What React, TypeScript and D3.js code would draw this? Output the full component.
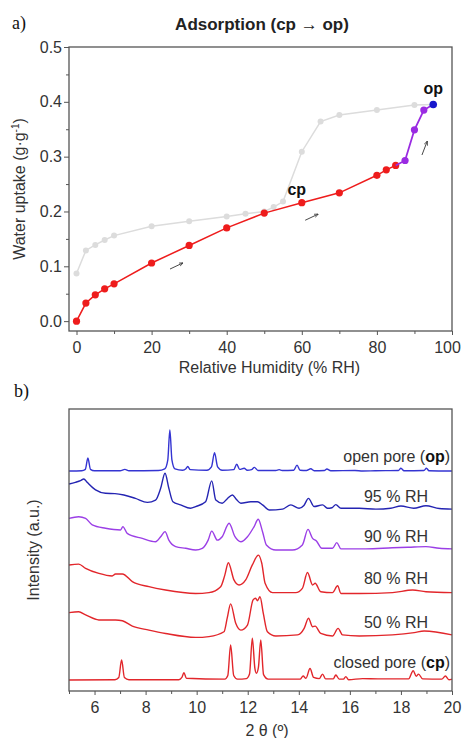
import React, { useEffect, useRef } from 'react';
import * as d3 from 'd3';

type Pt = [number, number];

// a) water adsorption isotherm, x = % RH, y = g/g
const adsRed: Pt[] = [
  [0, 0.0], [2.5, 0.033], [5, 0.048], [7.5, 0.059], [10, 0.068], [20, 0.106],
  [30, 0.138], [40, 0.170], [50, 0.197], [60, 0.216], [70, 0.234], [80, 0.266],
  [82.5, 0.276], [85, 0.284],
];
const adsPurple: Pt[] = [[87.5, 0.293], [90, 0.349], [92.5, 0.385]];
const adsBlue: Pt[] = [[95, 0.395]];
const desGray: Pt[] = [
  [0, 0.087], [2.5, 0.129], [5, 0.139], [7.5, 0.148], [10, 0.156], [20, 0.173],
  [30, 0.182], [40, 0.191], [45, 0.196], [50, 0.200], [52.5, 0.208], [55, 0.218],
  [60, 0.309], [65, 0.364], [70, 0.376], [80, 0.385], [90, 0.394], [95, 0.395],
];
const xTicksA = [0, 20, 40, 60, 80, 100];
const xMinorA = [10, 30, 50, 70, 90];
const yTicksA = [0, 0.1, 0.2, 0.3, 0.4, 0.5];
const yMinorA = [0.05, 0.15, 0.25, 0.35, 0.45];
// small direction arrows [x1, y1, x2, y2]
const arrowsA = [
  [24.9, 0.095, 28.3, 0.106],
  [60.9, 0.184, 64.3, 0.195],
  [92.0, 0.303, 93.4, 0.328],
];

// b) PXRD patterns, x = 2theta, y = stacked intensity (a.u.)
const xrdOp: Pt[] = [
  [5, 78], [5.5, 78.1], [5.64, 78.6], [5.74, 82.6], [5.84, 78.6], [6.0, 78.1], [7.0, 78.1],
  [7.19, 78.6], [7.35, 78.1], [8.5, 78.2], [8.75, 78.8], [8.87, 82], [8.95, 92.6], [9.03, 82],
  [9.15, 78.8], [9.45, 78.3], [9.58, 78.8], [9.65, 79.6], [9.75, 78.5], [10.4, 78.3],
  [10.58, 79.5], [10.7, 84.5], [10.82, 79.5], [11.0, 78.3], [11.45, 78.5], [11.57, 80.4],
  [11.68, 78.6], [11.86, 79.0], [11.98, 78.3], [12.15, 78.5], [12.26, 79.3], [12.4, 78.2],
  [13.1, 78.2], [13.23, 78.5], [13.35, 78.2], [13.8, 78.3], [13.93, 80.1], [14.05, 78.3],
  [14.3, 78.2], [14.47, 78.8], [14.6, 78.1], [15.0, 78.2], [15.1, 78.7], [15.25, 78.1],
  [16.2, 78.2], [16.5, 78.0], [17.0, 78.1], [17.9, 78.2], [18.0, 79.0], [18.12, 78.1],
  [18.9, 78.2], [19.0, 79.0], [19.1, 78.1], [20, 78.0],
];
const xrd95: Pt[] = [
  [5.0, 73.4], [5.25, 74.0], [5.45, 74.6], [5.58, 75.2], [5.71, 74.0], [6.04, 71.3], [6.43, 70.1],
  [6.8, 70.0], [7.15, 69.5], [7.6, 68.3], [8.07, 66.9], [8.39, 67.7], [8.59, 71.9], [8.76, 77.2],
  [8.91, 71.9], [9.07, 67.1], [9.37, 66.0], [9.76, 64.8], [9.96, 65.4], [10.35, 67.1],
  [10.59, 74.5], [10.75, 67.7], [11.0, 66.6], [11.2, 68.2], [11.4, 69.5], [11.55, 68.0],
  [11.73, 66.6], [12.12, 67.1], [12.38, 67.1], [12.58, 66.0], [12.84, 64.2], [13.36, 64.5],
  [13.69, 66.0], [14.01, 64.8], [14.2, 65.8], [14.38, 68.3], [14.6, 65.4], [14.93, 66.0],
  [15.12, 64.8], [15.3, 65.0], [15.45, 66.1], [15.65, 64.8], [16.37, 64.8], [17.02, 64.5],
  [17.6, 64.8], [18.0, 65.6], [18.5, 64.8], [18.98, 65.7], [19.5, 64.7], [20.0, 64.5],
];
const xrd90: Pt[] = [
  [5.0, 61.2], [5.38, 61.8], [5.65, 61.2], [5.91, 58.9], [6.43, 57.7], [7.02, 57.1], [7.11, 58.3],
  [7.28, 55.9], [7.87, 54.1], [8.39, 52.9], [8.59, 54.7], [8.76, 56.5], [8.91, 53.5], [9.18, 51.2],
  [9.57, 50.6], [9.96, 50.0], [10.22, 50.6], [10.45, 53.5], [10.59, 56.7], [10.81, 53.5],
  [11.0, 54.7], [11.27, 59.5], [11.5, 54.7], [11.73, 52.9], [11.99, 54.7], [12.25, 58.3],
  [12.41, 60.9], [12.58, 56.5], [12.73, 51.8], [13.1, 50.0], [13.75, 50.0], [14.14, 51.8],
  [14.36, 57.3], [14.54, 54.1], [14.69, 53.2], [14.9, 50.6], [15.32, 50.6], [15.49, 52.6],
  [15.65, 50.4], [16.63, 50.4], [17.67, 50.8], [18.3, 51.0], [18.98, 51.2], [19.5, 50.6],
  [20.0, 50.4],
];
const xrd80: Pt[] = [
  [5.0, 44.7], [5.38, 45.0], [5.65, 43.5], [6.17, 41.7], [6.69, 40.8], [6.82, 41.5], [7.09, 41.5],
  [7.48, 38.8], [8.13, 37.0], [8.78, 35.8], [9.96, 34.6], [10.48, 34.9], [10.94, 37.0],
  [11.1, 41.0], [11.24, 45.5], [11.46, 39.4], [11.66, 37.6], [11.92, 39.4], [12.18, 44.7],
  [12.42, 48.2], [12.55, 45.3], [12.68, 38.2], [12.97, 34.9], [13.88, 34.9], [14.14, 36.4],
  [14.34, 42.0], [14.54, 37.6], [14.64, 38.2], [14.86, 35.2], [15.32, 34.9], [15.52, 37.3],
  [15.65, 34.6], [16.37, 34.6], [17.67, 34.9], [18.46, 35.8], [18.98, 35.2], [20.0, 34.9],
];
const xrd50: Pt[] = [
  [5.0, 27.8], [5.38, 28.1], [5.65, 27.0], [6.17, 25.2], [6.82, 25.2], [7.09, 24.9], [7.48, 23.0],
  [8.13, 21.6], [8.78, 20.4], [9.96, 19.0], [10.48, 19.3], [11.07, 21.0], [11.2, 26.0],
  [11.33, 30.9], [11.53, 24.0], [11.73, 21.6], [11.99, 23.4], [12.21, 32.3], [12.31, 32.9],
  [12.38, 32.0], [12.48, 33.4], [12.61, 27.5], [12.77, 21.0], [13.1, 19.5], [13.95, 19.9],
  [14.21, 22.2], [14.38, 25.8], [14.54, 22.8], [14.64, 23.0], [14.86, 20.4], [15.32, 19.5],
  [15.54, 22.2], [15.71, 19.9], [16.37, 19.5], [17.67, 19.9], [18.52, 20.7], [18.91, 21.3],
  [20.0, 19.9],
];
const xrdCp: Pt[] = [
  [5.0, 3.9], [6.8, 4.0], [6.95, 4.8], [7.06, 11.0], [7.17, 4.8], [7.35, 4.0], [9.3, 4.0],
  [9.42, 4.8], [9.5, 6.5], [9.6, 4.5], [11.1, 4.2], [11.22, 5.5], [11.33, 16.3], [11.45, 5.5],
  [11.6, 4.2], [11.95, 4.4], [12.07, 6.0], [12.18, 18.7], [12.28, 8.0], [12.34, 6.3],
  [12.42, 8.5], [12.51, 18.1], [12.62, 5.8], [12.8, 4.2], [14.05, 4.2], [14.17, 5.3],
  [14.28, 4.5], [14.44, 8.0], [14.58, 4.8], [14.8, 4.4], [14.93, 6.0], [15.05, 4.3],
  [15.35, 4.3], [15.45, 5.7], [15.58, 4.2], [15.75, 4.2], [15.84, 5.1], [15.95, 4.0],
  [16.5, 4.4], [17.1, 4.3], [18.3, 4.3], [18.48, 7.2], [18.6, 5.2], [18.69, 6.0], [18.85, 4.3],
  [19.6, 4.2], [19.74, 5.3], [19.88, 4.0], [20, 4.2],
];
const xrdSeries = [
  { name: 'op', data: xrdOp, color: '#3434d2' },
  { name: '95', data: xrd95, color: '#2424b2' },
  { name: '90', data: xrd90, color: '#9b3fe6' },
  { name: '80', data: xrd80, color: '#e2262b' },
  { name: '50', data: xrd50, color: '#e2262b' },
  { name: 'cp', data: xrdCp, color: '#e2262b' },
];
const xTicksB = [6, 8, 10, 12, 14, 16, 18, 20];
const xMinorB = [5, 7, 9, 11, 13, 15, 17, 19];

const FONT = 'Liberation Sans, Arial, sans-serif';

function App() {
  const ref = useRef<SVGSVGElement>(null);

  useEffect(() => {
    const svg = d3.select(ref.current);
    svg.selectAll('*').remove();

    const left = 69;
    const right = 452;
    const frame = '#555';

    // ---------- panel a ----------
    const xa = d3.scaleLinear().domain([-2, 100]).range([left, right]);
    const ya = d3.scaleLinear().domain([-0.018, 0.5]).range([331, 47]);

    const defs = svg.append('defs');
    defs.append('marker')
      .attr('id', 'ah')
      .attr('viewBox', '0 0 10 10')
      .attr('refX', 9).attr('refY', 5)
      .attr('markerWidth', 5).attr('markerHeight', 5)
      .attr('orient', 'auto')
      .append('path')
      .attr('d', 'M0,1 L10,5 L0,9')
      .attr('fill', 'none')
      .attr('stroke', '#333')
      .attr('stroke-width', 1.6);

    const axA = svg.append('g').attr('font-family', FONT);

    const xAxisA = axA.append('g')
      .attr('transform', `translate(0,${ya.range()[0]})`)
      .call(d3.axisBottom(xa).tickValues(xTicksA).tickSize(4).tickPadding(7));
    axA.append('g')
      .attr('transform', `translate(0,${ya.range()[0]})`)
      .call(d3.axisBottom(xa).tickValues(xMinorA).tickSize(3).tickFormat(() => ''));
    axA.append('g')
      .attr('transform', `translate(${left},0)`)
      .call(d3.axisLeft(ya).tickValues(yTicksA).tickSize(5).tickPadding(2).tickFormat(d3.format('.1f')));
    axA.append('g')
      .attr('transform', `translate(${left},0)`)
      .call(d3.axisLeft(ya).tickValues(yMinorA).tickSize(3).tickFormat(() => ''));
    axA.selectAll('.domain').remove();
    axA.selectAll('.tick line').attr('stroke', frame);
    axA.selectAll('.tick text').attr('font-size', 16).attr('fill', '#333');
    xAxisA.selectAll('.tick text').attr('dy', '0.71em');
    // last label sits at the right edge of the page
    xAxisA.selectAll<SVGTextElement, number>('.tick text')
      .filter((d) => d === 100)
      .attr('dx', -5);

    svg.append('rect')
      .attr('x', left).attr('y', 47)
      .attr('width', right - left).attr('height', 331 - 47)
      .attr('fill', 'none').attr('stroke', frame).attr('stroke-width', 1.3);

    const lineA = d3.line<Pt>().x((d) => xa(d[0])).y((d) => ya(d[1]));

    const drawSeries = (data: Pt[], pts: Pt[], color: string, r: number, w: number) => {
      svg.append('path').datum(data)
        .attr('fill', 'none').attr('stroke', color).attr('stroke-width', w)
        .attr('d', lineA);
      svg.append('g').selectAll('circle').data(pts).join('circle')
        .attr('cx', (d) => xa(d[0])).attr('cy', (d) => ya(d[1]))
        .attr('r', r).attr('fill', color);
    };

    drawSeries(desGray, desGray, '#dcdcdc', 3, 1.5);
    drawSeries(adsRed, adsRed, '#ee1c1c', 3.6, 1.5);
    const lastRed = adsRed[adsRed.length - 1];
    drawSeries([lastRed, ...adsPurple, ...adsBlue], adsPurple, '#9a2be2', 3.6, 1.8);
    drawSeries(adsBlue, adsBlue, '#1717cc', 3.8, 1.5);

    svg.append('g').selectAll('line').data(arrowsA).join('line')
      .attr('x1', (d) => xa(d[0])).attr('y1', (d) => ya(d[1]))
      .attr('x2', (d) => xa(d[2])).attr('y2', (d) => ya(d[3]))
      .attr('stroke', '#333').attr('stroke-width', 0.9)
      .attr('marker-end', 'url(#ah)');

    const cpPt = adsRed[9];
    svg.append('text')
      .attr('x', xa(cpPt[0]) - 5).attr('y', ya(cpPt[1]) - 8)
      .attr('text-anchor', 'middle').attr('font-family', FONT)
      .attr('font-size', 16).attr('font-weight', 'bold').attr('fill', '#111')
      .text('cp');
    svg.append('text')
      .attr('x', xa(adsBlue[0][0])).attr('y', ya(adsBlue[0][1]) - 11)
      .attr('text-anchor', 'middle').attr('font-family', FONT)
      .attr('font-size', 16).attr('font-weight', 'bold').attr('fill', '#111')
      .text('op');

    svg.append('text')
      .attr('x', 262).attr('y', 30)
      .attr('text-anchor', 'middle').attr('font-family', FONT)
      .attr('font-size', 17).attr('font-weight', 'bold').attr('fill', '#222')
      .text('Adsorption (cp \u2192 op)');
    svg.append('text')
      .attr('x', 12).attr('y', 29)
      .attr('font-family', 'Liberation Serif, Times New Roman, serif')
      .attr('font-size', 18).attr('fill', '#111')
      .text('a)');

    svg.append('text')
      .attr('x', (left + right) / 2 + 9).attr('y', 373)
      .attr('text-anchor', 'middle').attr('font-family', FONT)
      .attr('font-size', 16).attr('fill', '#333')
      .text('Relative Humidity (% RH)');

    const yt = svg.append('text')
      .attr('transform', `translate(25,${(47 + 331) / 2}) rotate(-90)`)
      .attr('text-anchor', 'middle').attr('font-family', FONT)
      .attr('font-size', 16).attr('fill', '#333');
    yt.append('tspan').text('Water uptake (g\u00b7g');
    yt.append('tspan').attr('font-size', 10).attr('dy', -6).text('-1');
    yt.append('tspan').attr('dy', 6).text(')');

    // ---------- panel b ----------
    const top = 409;
    const bottom = 691;
    const xb = d3.scaleLinear().domain([5, 20]).range([left, right]);
    const yb = d3.scaleLinear().domain([0, 100]).range([bottom, top]);

    const axB = svg.append('g').attr('font-family', FONT);
    const xAxisB = axB.append('g')
      .attr('transform', `translate(0,${bottom})`)
      .call(d3.axisBottom(xb).tickValues(xTicksB).tickSize(4).tickPadding(7));
    axB.append('g')
      .attr('transform', `translate(0,${bottom})`)
      .call(d3.axisBottom(xb).tickValues(xMinorB).tickSize(3).tickFormat(() => ''));
    axB.selectAll('.domain').remove();
    axB.selectAll('.tick line').attr('stroke', frame);
    axB.selectAll('.tick text').attr('font-size', 16).attr('fill', '#333');
    xAxisB.selectAll('.tick text').attr('dy', '0.71em');

    const lineB = d3.line<Pt>()
      .x((d) => xb(d[0])).y((d) => yb(d[1]))
      .curve(d3.curveMonotoneX);

    svg.append('g').selectAll('path').data(xrdSeries).join('path')
      .attr('fill', 'none')
      .attr('stroke', (d) => d.color)
      .attr('stroke-width', 1.4)
      .attr('stroke-linejoin', 'round')
      .attr('d', (d) => lineB(d.data));

    svg.append('rect')
      .attr('x', left).attr('y', top)
      .attr('width', right - left).attr('height', bottom - top)
      .attr('fill', 'none').attr('stroke', frame).attr('stroke-width', 1.3);

    const lab = (x: number, y: number, a: string, b?: string, c?: string) => {
      const t = svg.append('text')
        .attr('x', x).attr('y', y)
        .attr('text-anchor', 'end').attr('font-family', FONT)
        .attr('font-size', 16).attr('fill', '#333');
      t.append('tspan').text(a);
      if (b) t.append('tspan').attr('font-weight', 'bold').attr('fill', '#111').text(b);
      if (c) t.append('tspan').text(c);
    };
    lab(450, 462, 'open pore (', 'op', ')');
    lab(428, 502, '95 % RH');
    lab(428, 542, '90 % RH');
    lab(428, 584, '80 % RH');
    lab(428, 628, '50 % RH');
    lab(450, 668, 'closed pore (', 'cp', ')');

    svg.append('text')
      .attr('x', 267).attr('y', 736)
      .attr('text-anchor', 'middle').attr('font-family', FONT)
      .attr('font-size', 16).attr('fill', '#333')
      .text('2 \u03b8 (\u00ba)');
    svg.append('text')
      .attr('transform', `translate(39,${(top + bottom) / 2}) rotate(-90)`)
      .attr('text-anchor', 'middle').attr('font-family', FONT)
      .attr('font-size', 16).attr('fill', '#333')
      .text('Intensity (a.u.)');
    svg.append('text')
      .attr('x', 14).attr('y', 397)
      .attr('font-family', 'Liberation Serif, Times New Roman, serif')
      .attr('font-size', 18).attr('fill', '#111')
      .text('b)');
  }, []);

  return (
    <svg
      ref={ref}
      width={464}
      height={738}
      style={{ position: 'absolute', left: 0, top: 0, background: '#fff' }}
    />
  );
}

export default App;
